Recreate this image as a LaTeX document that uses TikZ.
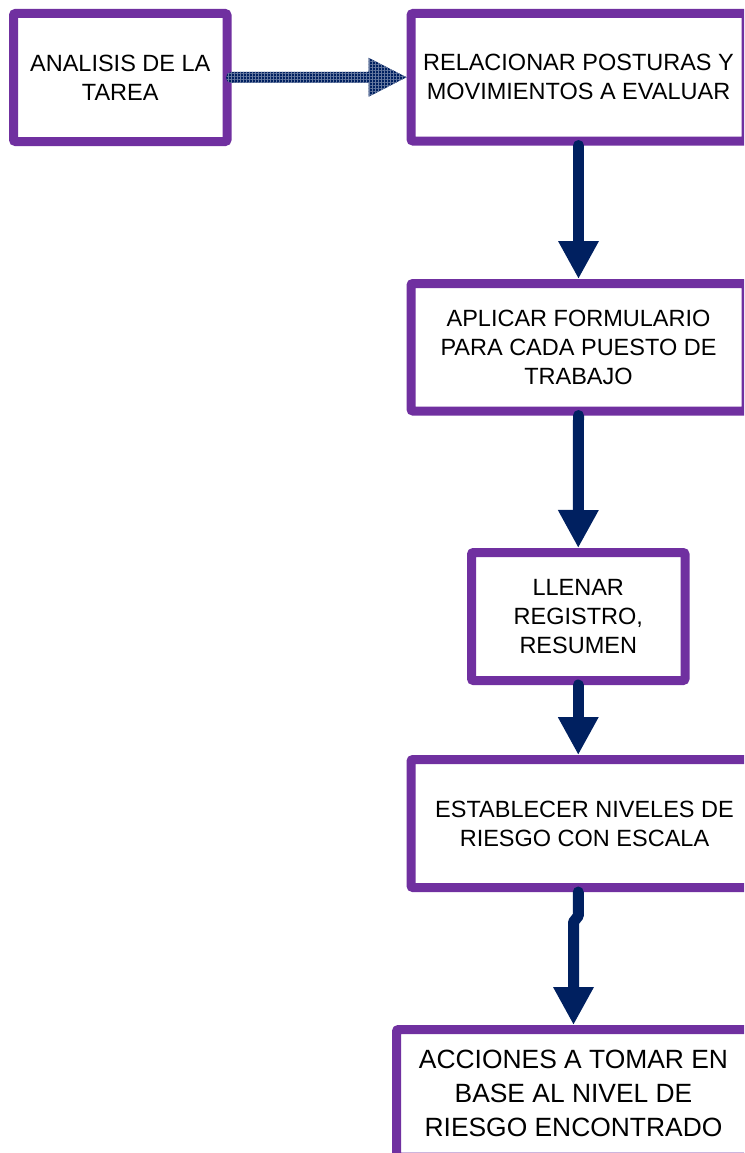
\documentclass[tikz,border=0pt]{standalone}
\usepackage{fontspec}
\setmainfont{Liberation Sans}
\usetikzlibrary{arrows.meta,calc,patterns.meta}
\definecolor{boxpurple}{RGB}{112,48,160}
\definecolor{arrnavy}{RGB}{0,32,96}
\begin{document}
\begin{tikzpicture}[x=1pt,y=-1pt,
  box/.style={draw=boxpurple, line width=9pt, rounded corners=2pt, fill=white,
    align=center, inner sep=0pt, text=black, font=\fontsize{23.5}{29}\selectfont},
  bigtext/.style={font=\fontsize{26.4}{34}\selectfont},
  flow/.style={draw=arrnavy, line width=11pt, line cap=round, line join=round,
    -{Triangle[width=38pt,length=38pt]}},
  hatched/.style={fill=arrnavy,
    postaction={pattern={Lines[angle=0,distance=3pt,line width=0.7pt]}, pattern color=white!40!arrnavy},
    postaction={pattern={Lines[angle=90,distance=3pt,line width=0.7pt]}, pattern color=white!40!arrnavy}}
]
\useasboundingbox (0,0) rectangle (744,1153);
\clip (0,0) rectangle (744,1153);

\node[box, minimum width=213.5pt, minimum height=128pt] (b1) at (120.25,77.5)
  {ANALISIS DE LA\\TAREA};
\node[box, minimum width=335pt, minimum height=127.5pt] (b2) at (578.5,77.25)
  {RELACIONAR POSTURAS Y\\MOVIMIENTOS A EVALUAR};
\node[box, minimum width=335pt, minimum height=127.5pt] (b3) at (578.5,347.25)
  {APLICAR FORMULARIO\\PARA CADA PUESTO DE\\TRABAJO};
\node[box, minimum width=213.5pt, minimum height=128pt] (b4) at (578.25,616.5)
  {LLENAR\\REGISTRO,\\RESUMEN};
\node[box, minimum width=347pt, minimum height=128pt] (b5) at (584.5,823.5)
  {ESTABLECER NIVELES DE\\RIESGO CON ESCALA};
\node[box, bigtext, minimum width=354pt, minimum height=127.5pt] (b6) at (573.5,1093.25)
  {ACCIONES A TOMAR EN\\BASE AL NIVEL DE\\RIESGO ENCONTRADO};

% hatched arrow from b1 to b2
\path[hatched] ($(b1.east)+(0,-5.5)$) -- ($(b2.west)+(-38,-5.5)$) -- ($(b2.west)+(-38,-19.5)$)
  -- (b2.west) -- ($(b2.west)+(-38,19.5)$) -- ($(b2.west)+(-38,5.5)$) -- ($(b1.east)+(0,5.5)$) -- cycle;
\path[hatched] (b1.east) circle[radius=5.5pt];

\draw[flow] (b2.south) -- (b3.north);
\draw[flow] (b3.south) -- (b4.north);
\draw[flow] (b4.south) -- (b4.south |- b5.north);
\draw[flow] (b4.south |- b5.south) -- ++(0,24) -- ($(b6.north |- b5.south)+(0,30)$) -- (b6.north);
\end{tikzpicture}
\end{document}
